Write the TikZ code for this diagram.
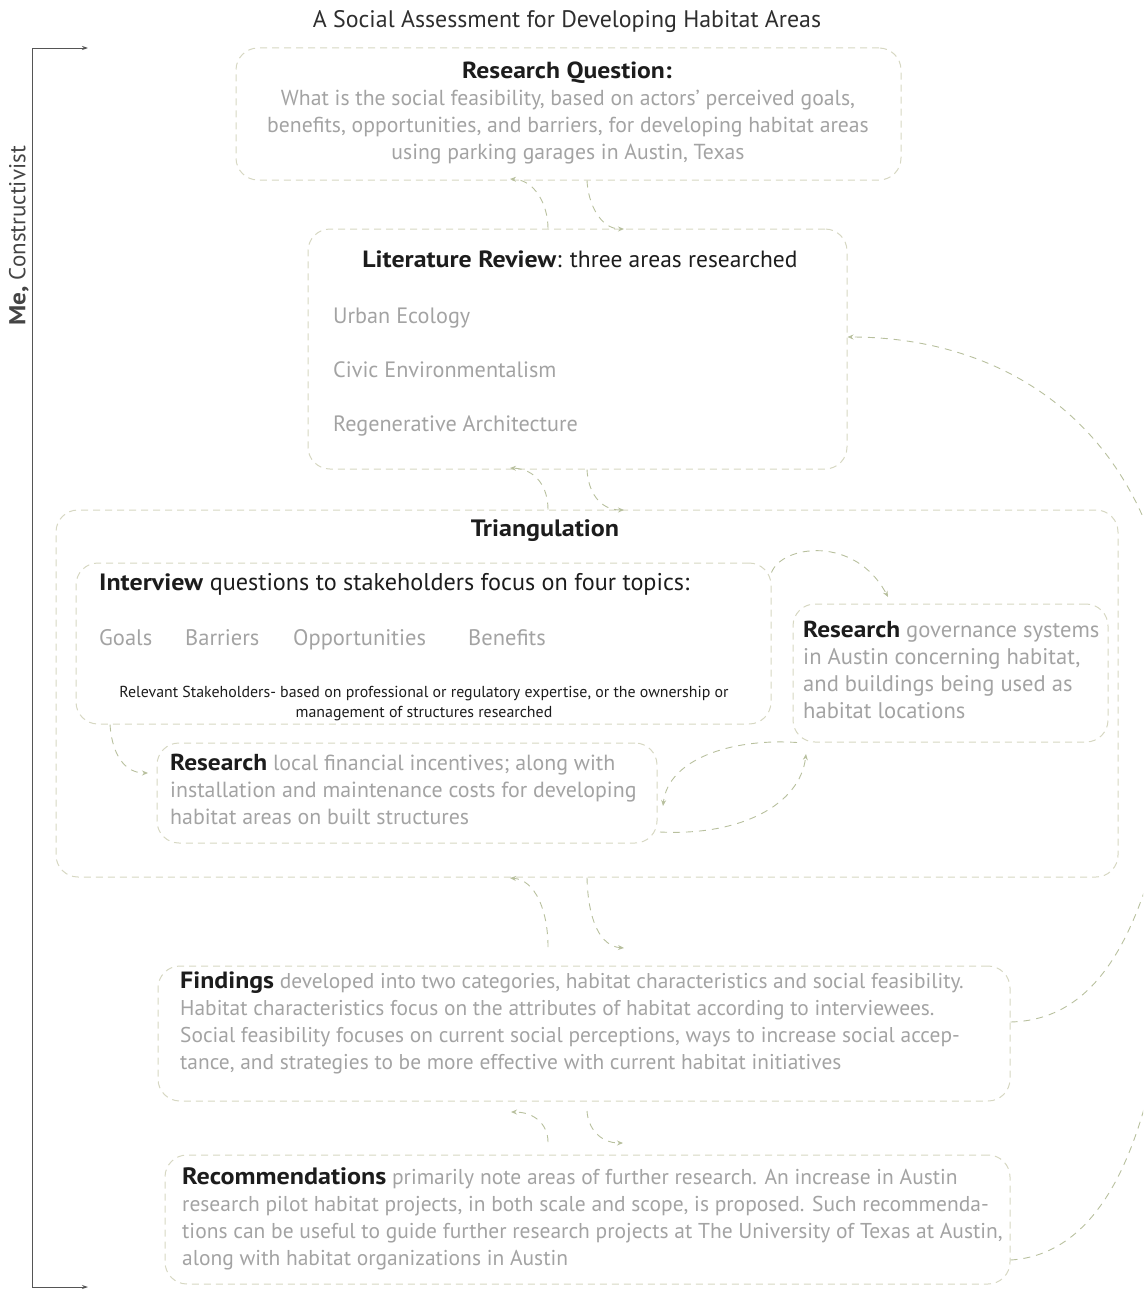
\documentclass[tikz,border=0pt]{standalone}
\usepackage{fontspec}
\setmainfont{PT Sans}[BoldFeatures={FakeStretch=1.1}]
\usetikzlibrary{arrows.meta}
\definecolor{boxc}{HTML}{D6D7C2}
\definecolor{arrc}{HTML}{B8C09E}
\definecolor{txtg}{HTML}{A3A3A3}
\definecolor{txtk}{HTML}{1C1C1C}
\definecolor{ttl}{HTML}{2E2E2E}
\definecolor{axisc}{HTML}{555555}
\begin{document}
\begin{tikzpicture}[x=1pt,y=-1pt,
  box/.style={draw=boxc, line width=1pt, dash pattern=on 7pt off 5pt, rounded corners=22pt, inner sep=0pt},
  link/.style={draw=arrc, line width=0.9pt, dash pattern=on 7pt off 6pt, -{Stealth[length=6pt,width=5pt]}},
  plainlink/.style={draw=arrc, line width=0.9pt, dash pattern=on 7pt off 6pt},
  gtxt/.style={text=txtg, inner sep=0pt, align=left},
  ktxt/.style={text=txtk, inner sep=0pt},
  axisline/.style={draw=axisc, line width=0.8pt, {Stealth[length=6pt,width=4pt]}-{Stealth[length=6pt,width=4pt]}}
]
\useasboundingbox (0,0) rectangle (1143,1290);
\clip (0,0) rectangle (1143,1290);

% title
\node[text=ttl, inner sep=0pt, font=\fontsize{23.9}{28}\selectfont] (title) at (567,22) {A Social Assessment for Developing Habitat Areas};

% axis
\coordinate (axt) at (32,48);
\coordinate (axb) at (32,1287);
\coordinate (axtr) at (88,48);
\coordinate (axbr) at (88,1287);
\draw[axisline] (axtr) -- (axt) -- (axb) -- (axbr);
\node[rotate=90, text=axisc!80!black, inner sep=0pt, font=\fontsize{23}{27}\selectfont] (me) at (19,236) {\textbf{Me,} Constructivist};

% boxes
\node[box, minimum width=665pt, minimum height=132pt] (rq) at (568.5,114) {};
\node[box, minimum width=539pt, minimum height=240pt] (lr) at (577.5,349) {};
\node[box, minimum width=1062pt, minimum height=367pt] (tri) at (587,693.5) {};
\node[box, minimum width=695pt, minimum height=161pt] (iv) at (423.5,643.5) {};
\node[box, minimum width=315pt, minimum height=138pt] (gov) at (950.5,673) {};
\node[box, minimum width=500pt, minimum height=100pt] (loc) at (407,793) {};
\node[box, minimum width=852pt, minimum height=135pt] (fin) at (584,1033.5) {};
\node[box, minimum width=845pt, minimum height=129pt] (rec) at (587.5,1219.5) {};

% research question
\node[ktxt, font=\bfseries\fontsize{23.3}{27}\selectfont] (rqh) at (567,73) {Research Question:};
\node[gtxt, align=center, anchor=north, font=\fontsize{21.7}{27}\selectfont] (rqb) at (568,90)
 {What is the social feasibility, based on actors’ perceived goals,\\
  benefits, opportunities, and barriers, for developing habitat areas\\
  using parking garages in Austin, Texas};

% literature review
\node[ktxt, anchor=base, font=\fontsize{23.5}{27}\selectfont] (lrh) at (580,267) {\textbf{Literature Review}: three areas researched};
\node[gtxt, anchor=base west, font=\fontsize{22.2}{26}\selectfont] (ue) at (333,323) {Urban Ecology};
\node[gtxt, anchor=base west, font=\fontsize{22.2}{26}\selectfont] (ce) at (333,377) {Civic Environmentalism};
\node[gtxt, anchor=base west, font=\fontsize{22.2}{26}\selectfont] (ra) at (333,431) {Regenerative Architecture};

% triangulation
\node[ktxt, font=\bfseries\fontsize{23.7}{27}\selectfont] (trih) at (545,531) {Triangulation};

% interview
\node[ktxt, anchor=base west, font=\fontsize{24.2}{28}\selectfont] (ivh) at (99,590) {{\fontsize{23.6}{28}\selectfont\textbf{Interview}} questions to stakeholders focus on four topics:};
\node[gtxt, anchor=base west, font=\fontsize{22.5}{26}\selectfont] (goals) at (99,645) {Goals};
\node[gtxt, anchor=base west, font=\fontsize{22.5}{26}\selectfont] (barr) at (185,645) {Barriers};
\node[gtxt, anchor=base west, font=\fontsize{22.5}{26}\selectfont] (opp) at (293,645) {Opportunities};
\node[gtxt, anchor=base west, font=\fontsize{22.5}{26}\selectfont] (ben) at (468,645) {Benefits};
\node[ktxt, align=center, anchor=north, font=\fontsize{15.9}{20}\selectfont] (stk) at (424,686)
 {Relevant Stakeholders- based on professional or regulatory expertise, or the ownership or\\
  management of structures researched};

% governance
\node[gtxt, anchor=north west, font=\fontsize{22.6}{27}\selectfont] (govt) at (803,621)
 {\textcolor{txtk}{\fontsize{23.1}{27}\selectfont\textbf{Research}} governance systems\\
  in Austin concerning habitat,\\
  and buildings being used as\\
  habitat locations};

% local
\node[gtxt, anchor=north west, font=\fontsize{21.9}{27}\selectfont] (loct) at (170,754)
 {\textcolor{txtk}{\fontsize{23.1}{27}\selectfont\textbf{Research}} local financial incentives; along with\\
  installation and maintenance costs for developing\\
  habitat areas on built structures};

% findings
\node[gtxt, anchor=north west, font=\fontsize{21.4}{26.7}\selectfont] (fint) at (180,972)
 {\textcolor{txtk}{\fontsize{23.5}{26}\selectfont\textbf{Findings}} developed into two categories, habitat characteristics and social feasibility.\\
  Habitat characteristics focus on the attributes of habitat according to interviewees.\\
  Social feasibility focuses on current social perceptions, ways to increase social accep-\\
  tance, and strategies to be more effective with current habitat initiatives};

% recommendations
\node[gtxt, anchor=north west, font=\fontsize{21.5}{27}\selectfont] (rect) at (182,1167)
 {\textcolor{txtk}{\fontsize{23.7}{27}\selectfont\textbf{Recommendations}} primarily note areas of further research. An increase in Austin\\
  research pilot habitat projects, in both scale and scope, is proposed. Such recommenda-\\
  tions can be useful to guide further research projects at The University of Texas at Austin,\\
  along with habitat organizations in Austin};

% vertical connector pairs
\draw[link] (548,0 |- lr.north) .. controls (548,205) and (535,180) .. (510,179);
\draw[link] (587,0 |- rq.south) .. controls (588,203) and (600,229) .. (624,229);
\draw[link] (548,0 |- tri.north) .. controls (548,486) and (535,469) .. (510,468);
\draw[link] (587,0 |- lr.south) .. controls (588,492) and (600,510) .. (624,510);
\coordinate (tfl) at (548,947);
\coordinate (tfr) at (624,948);
\draw[link] (tfl) .. controls (548,910) and (535,880) .. (510,878);
\draw[link] (587,0 |- tri.south) .. controls (588,920) and (600,946) .. (tfr);
\coordinate (frl) at (548,1142);
\coordinate (frlt) at (511,1112);
\coordinate (frr) at (587,1111);
\coordinate (frrt) at (623,1143);
\draw[link] (frl) .. controls (548,1125) and (535,1112) .. (frlt);
\draw[link] (frr) .. controls (588,1128) and (600,1143) .. (frrt);

% triangulation internal connectors
\draw[link] (110,0 |- iv.south) .. controls (112,755) and (125,773) .. (148,773);
\draw[link] ([yshift=-10pt]iv.north east) .. controls (782,545) and (855,535) .. (888,597);
\draw[link] (660,832) .. controls (740,836) and (800,805) .. (806,754);
\draw[link] (797,0 |- gov.south) .. controls (730,738) and (668,760) .. (663,806);

% long right connectors
\coordinate (offa) at (1175,640);
\coordinate (offb) at (1175,760);
\coordinate (offc) at (1170,960);
\draw[link] (offa) .. controls (1150,420) and (1000,337) .. (lr.east |- 0,337);
\draw[plainlink] (fin.east |- 0,1022) .. controls (1090,1020) and (1145,950) .. (offb);
\draw[plainlink] (rec.east |- 0,1260) .. controls (1090,1255) and (1150,1170) .. (offc);
\end{tikzpicture}
\end{document}
